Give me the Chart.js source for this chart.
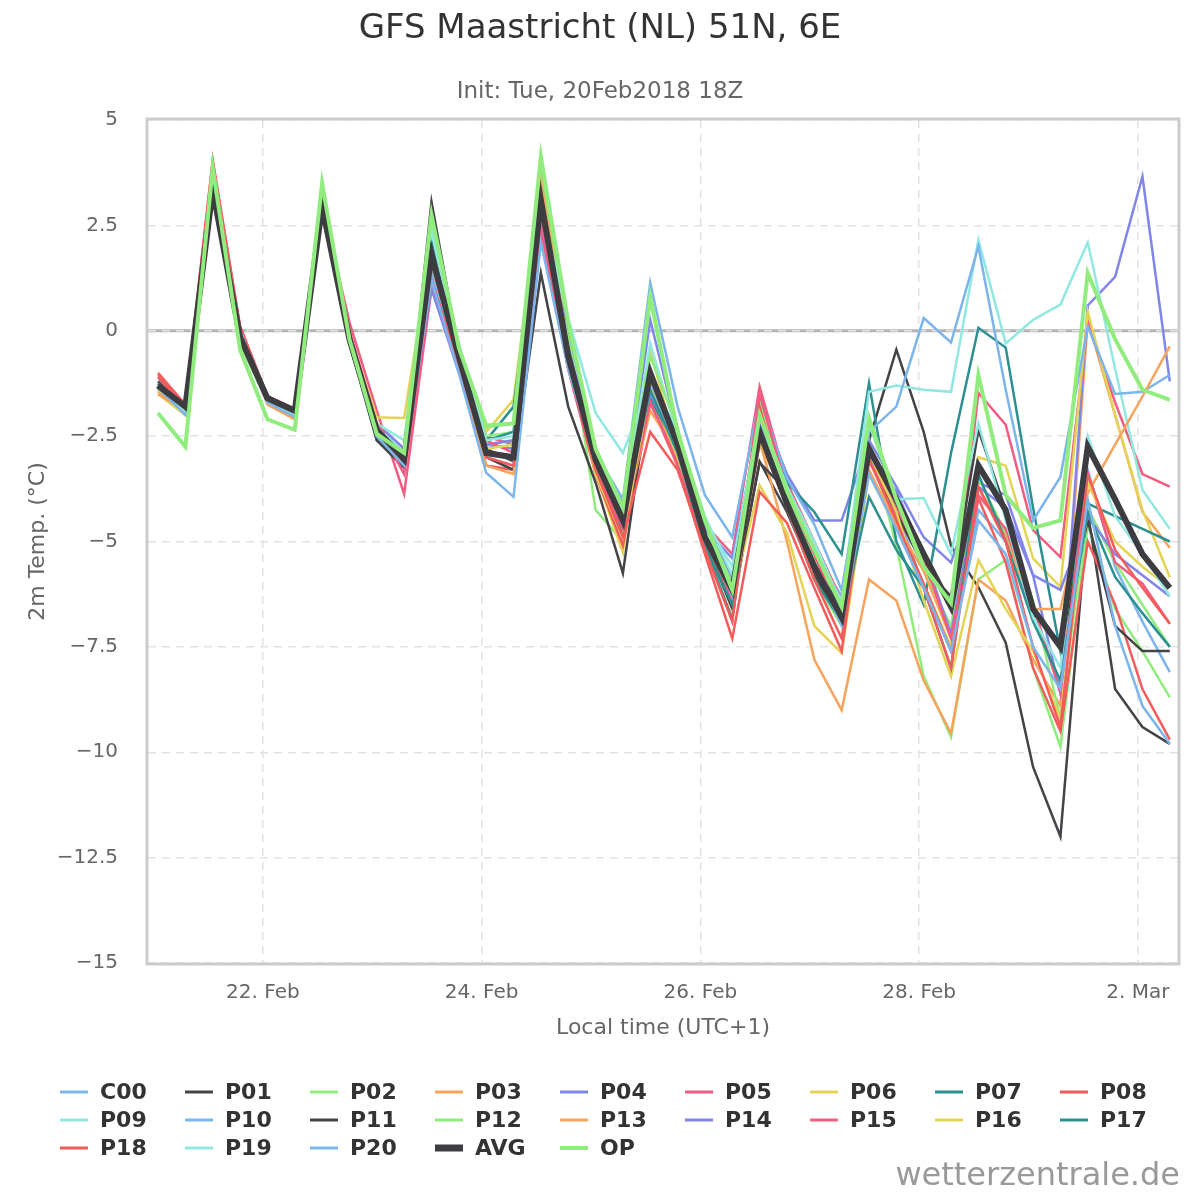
<!DOCTYPE html>
<html>
<head>
<meta charset="utf-8">
<title>GFS Maastricht (NL) 51N, 6E</title>
<script src="https://cdn.jsdelivr.net/npm/chart.js@4.4.1/dist/chart.umd.min.js"></script>
<style>
    html, body { margin: 0; padding: 0; background: #ffffff; }
    #chart { display: block; }
</style>
</head>
<body>
<canvas id="chart" width="1200" height="1200"></canvas>
<script>
/* ============================================
   DATA (2m temperature, °C, every 6h from 21 Feb 01:00 local)
   ============================================ */

// hours after 21 Feb 01:00 (UTC+1)
const HOURS = [0, 6, 12, 18, 24, 30, 36, 42, 48, 54, 60, 66, 72, 78, 84, 90, 96, 102, 108,
    114, 120, 126, 132, 138, 144, 150, 156, 162, 168, 174, 180, 186, 192, 198, 204, 210, 216, 222];

// x-axis ticks: midnight of each labelled day
const TICK_HOURS = [23, 71, 119, 167, 215];
const TICK_LABELS = ['22. Feb', '24. Feb', '26. Feb', '28. Feb', '2. Mar'];

const C00 = [-1.35, -1.95, 3.5, -0.1,  -1.65, -1.95, 3.1, -0.1,  -2.4, -3.0, 1.4, -0.9,
    -3.2, -3.3, 2.6, -0.7,  -3.2, -4.3, -1.3, -2.6,  -4.6, -5.9, -1.9, -3.8,
    -5.3, -6.3, -2.9, -4.2,  -6.1, -7.6, -4.25, -5.0,  -6.8, -8.45, -3.3, -5.6,  -6.9, -8.1];
const P01 = [-1.25, -1.8, 3.3, 0.0,  -1.6, -1.9, 2.9, -0.2,  -2.5, -3.2, 3.06, -0.5,
    -2.8, -3.1, 2.9, -0.5,  -3.1, -4.6, -1.1, -2.9,  -5.0, -6.6, -3.1, -4.3,
    -5.8, -6.9, -2.6, -0.45,  -2.4, -5.1, -6.08, -7.4,  -10.35, -12.0, -4.3, -8.5,  -9.4, -9.8];
const P02 = [-1.4, -1.95, 3.8, -0.3,  -1.7, -2.0, 3.3, -0.2,  -2.3, -2.9, 2.4, -0.4,
    -2.3, -2.2, 3.9, 0.0,  -4.25, -5.0, -1.5, -3.0,  -4.6, -6.2, -2.2, -4.2,
    -5.9, -7.0, -2.6, -5.1,  -8.2, -9.64, -5.9, -5.44,  -8.0, -9.87, -4.6, -6.6,  -7.6, -8.7];
const P03 = [-1.45, -1.95, 3.6, -0.1,  -1.7, -2.05, 3.1, -0.3,  -2.4, -3.1, 1.7, -0.9,
    -3.0, -3.3, 2.9, -0.6,  -3.3, -4.8, -1.6, -3.0,  -5.2, -6.8, -2.6, -5.0,
    -7.8, -9.0, -5.9, -6.4,  -8.3, -9.55, -5.9, -6.4,  -7.8, -8.9, 0.26, -2.0,  -4.3, -5.15];
const P04 = [-1.4, -1.95, 3.5, -0.1,  -1.65, -1.95, 3.0, -0.15,  -2.2, -2.8, 1.0, -0.9,
    -2.7, -2.8, 2.3, 0.1,  -3.0, -4.3, 0.26, -2.4,  -4.5, -5.9, -1.8, -3.4,
    -4.5, -4.5, -2.6, -3.7,  -4.9, -5.5, -3.6, -3.9,  -5.8, -8.6, 0.6, 1.28,  3.66, -1.2];
const P05 = [-1.05, -1.75, 4.0, 0.1,  -1.55, -1.85, 3.0, 0.2,  -1.9, -3.87, 1.0, -0.7,
    -2.5, -2.7, 2.5, -0.5,  -2.9, -4.1, -1.4, -2.7,  -4.6, -5.3, -1.33, -3.6,
    -5.0, -6.4, -3.0, -4.4,  -5.5, -7.2, -1.47, -2.23,  -4.73, -5.37, 0.2, -1.7,  -3.4, -3.7];
const P06 = [-1.5, -2.0, 3.6, -0.1,  -1.7, -2.0, 3.1, -0.1,  -2.05, -2.07, 2.0, -0.6,
    -2.4, -1.64, 3.4, -0.5,  -3.4, -5.27, -0.45, -2.9,  -5.0, -6.3, -3.66, -4.8,
    -7.0, -7.65, -3.4, -4.6,  -6.0, -7.5, -3.0, -3.2,  -5.4, -6.08, 0.45, -2.0,  -4.25, -5.85];
const P07 = [-1.3, -1.8, 3.4, -0.1,  -1.65, -2.0, 3.0, -0.2,  -2.6, -3.1, 2.1, -0.7,
    -2.6, -1.8, 3.1, -0.5,  -3.3, -4.8, -1.6, -2.8,  -5.1, -6.86, -2.2, -3.6,
    -4.3, -5.3, -1.24, -5.0,  -6.5, -2.9, 0.07, -0.4,  -4.2, -7.6, -4.1, -4.4,  -4.7, -5.0];
const P08 = [-1.0, -1.75, 4.06, 0.1,  -1.55, -1.9, 3.1, -0.1,  -2.3, -3.2, 1.5, -0.9,
    -3.2, -3.3, 2.3, -0.9,  -3.4, -5.1, -1.7, -3.2,  -5.3, -7.3, -3.82, -4.56,
    -6.1, -7.6, -3.0, -4.5,  -6.0, -7.6, -3.97, -5.5,  -8.0, -9.5, -5.0, -6.5,  -8.5, -9.7];
const P09 = [-1.3, -1.85, 3.6, 0.0,  -1.6, -1.95, 3.1, -0.1,  -2.2, -2.6, 2.4, -0.4,
    -2.7, -2.6, 3.4, 0.26,  -3.0, -4.2, -0.3, -2.5,  -4.4, -5.8, -2.0, -3.7,
    -5.2, -6.4, -1.45, -1.3,  -1.4, -1.45, 2.16, -0.3,  0.26, 0.62, 2.1, -0.9,  -3.78, -4.7];
const P10 = [-1.3, -1.9, 3.5, -0.1,  -1.7, -2.0, 3.0, -0.2,  -2.4, -3.0, 1.37, -0.8,
    -3.0, -3.2, 2.1, -0.4,  -2.9, -4.0, 1.14, -1.8,  -3.9, -4.9, -1.6, -3.5,
    -4.6, -6.15, -2.4, -1.8,  0.3, -0.28, 2.0, -1.4,  -4.5, -3.47, 0.1, -1.5,  -1.45, -1.05];
const P11 = [-1.2, -1.85, 3.2, -0.2,  -1.55, -1.9, 2.95, -0.3,  -2.6, -3.25, 2.0, -0.9,
    -3.0, -3.3, 1.37, -1.8,  -3.6, -5.75, -1.2, -2.7,  -4.9, -6.4, -3.13, -3.8,
    -5.5, -6.6, -3.0, -4.3,  -5.6, -6.3, -2.35, -4.25,  -6.7, -7.5, -4.5, -7.0,  -7.6, -7.6];
const P12 = [-1.3, -1.85, 3.7, -0.05,  -1.6, -1.95, 3.2, -0.1,  -2.3, -2.9, 2.7, -0.5,
    -2.5, -2.4, 3.6, 0.2,  -3.0, -4.4, -0.6, -2.3,  -4.6, -6.0, -1.7, -3.9,
    -5.4, -6.5, -2.2, -4.0,  -5.7, -7.0, -3.5, -4.8,  -6.4, -9.2, -4.2, -5.5,  -6.5, -7.5];
const P13 = [-1.5, -1.9, 3.7, 0.0,  -1.75, -2.1, 3.2, -0.1,  -2.5, -3.1, 1.9, -0.8,
    -3.2, -3.4, 3.6, -0.4,  -3.1, -4.6, -1.9, -2.9,  -4.9, -6.3, -2.7, -4.0,
    -5.6, -6.9, -3.3, -4.6,  -5.7, -7.3, -3.7, -4.9,  -6.6, -6.6, -3.85, -2.7,  -1.56, -0.37];
const P14 = [-1.3, -1.9, 3.4, -0.1,  -1.6, -1.9, 3.0, -0.2,  -2.3, -2.9, 1.0, -1.0,
    -2.7, -2.6, 2.6, -0.4,  -2.8, -4.3, -1.5, -2.8,  -4.7, -5.4, -2.2, -4.2,
    -5.6, -6.7, -3.1, -3.8,  -5.3, -7.2, -3.7, -4.2,  -5.8, -6.15, -4.4, -5.3,  -5.8, -6.3];
const P15 = [-1.1, -1.8, 3.9, 0.05,  -1.6, -2.0, 3.1, 0.0,  -2.2, -3.4, 1.2, -0.8,
    -2.6, -2.9, 2.4, -0.9,  -3.3, -4.7, -1.7, -3.1,  -5.1, -6.4, -1.5, -3.8,
    -5.3, -6.9, -3.1, -4.2,  -5.4, -7.3, -3.9, -4.7,  -6.5, -8.6, -3.4, -5.5,  -6.0, -6.95];
const P16 = [-1.4, -1.9, 3.5, 0.0,  -1.7, -2.0, 3.0, -0.3,  -2.4, -3.0, 1.6, -0.6,
    -2.8, -2.7, 3.0, -0.4,  -3.4, -4.9, -1.3, -3.0,  -4.9, -6.1, -2.6, -4.0,
    -5.6, -6.8, -2.9, -4.3,  -6.4, -8.2, -5.44, -6.6,  -7.6, -9.2, -3.6, -5.0,  -5.6, -6.1];
const P17 = [-1.25, -1.85, 3.3, -0.15,  -1.6, -1.95, 2.95, -0.2,  -2.5, -3.0, 1.7, -0.8,
    -2.6, -2.4, 3.0, -0.4,  -3.2, -4.4, -1.4, -2.9,  -5.1, -6.5, -2.3, -4.2,
    -5.9, -6.9, -3.94, -5.2,  -6.1, -8.0, -3.4, -5.0,  -6.9, -8.3, -4.3, -5.84,  -6.7, -7.5];
const P18 = [-1.1, -1.8, 3.9, 0.0,  -1.6, -1.95, 3.0, -0.15,  -2.4, -3.1, 1.2, -0.8,
    -3.0, -3.2, 2.8, -0.8,  -3.3, -4.9, -2.4, -3.3,  -5.2, -6.9, -1.8, -4.2,
    -5.9, -7.3, -3.06, -4.5,  -6.1, -8.0, -3.7, -5.0,  -7.5, -9.4, -3.4, -5.2,  -6.1, -6.95];
const P19 = [-1.35, -1.9, 3.6, 0.0,  -1.7, -2.0, 3.2, -0.1,  -2.3, -2.9, 2.4, -0.3,
    -2.6, -2.5, 2.9, 0.3,  -1.95, -2.9, -1.2, -2.4,  -4.5, -5.6, -2.0, -3.7,
    -5.0, -6.5, -2.2, -4.0,  -3.97, -5.3, -2.2, -4.5,  -6.8, -8.0, -2.5, -4.4,  -5.3, -6.3];
const P20 = [-1.35, -2.0, 3.4, -0.2,  -1.7, -2.05, 3.0, -0.3,  -2.5, -3.2, 1.2, -1.0,
    -3.37, -3.94, 2.1, -0.9,  -3.1, -4.6, -1.2, -2.8,  -4.8, -6.3, -2.0, -4.0,
    -5.5, -7.0, -3.4, -4.7,  -6.1, -7.6, -4.5, -5.3,  -7.5, -8.5, -4.0, -7.0,  -8.9, -9.8];
const AVG = [-1.3, -1.8, 3.35, -0.15,  -1.6, -1.9, 2.95, -0.2,  -2.35, -3.05, 1.8, -0.6,
    -2.9, -3.0, 3.1, -0.6,  -3.05, -4.5, -1.0, -2.7,  -4.9, -6.15, -2.4, -4.1,
    -5.6, -6.8, -2.8, -4.0,  -5.3, -6.55, -3.2, -4.25,  -6.6, -7.5, -2.75, -4.0,  -5.3, -6.1];
const OP = [-1.95, -2.75, 3.87, -0.45,  -2.1, -2.35, 3.5, -0.2,  -2.45, -2.9, 2.75, -0.4,
    -2.25, -2.2, 4.13, 0.2,  -2.8, -4.2, 0.8, -2.4,  -4.5, -6.15, -2.0, -3.8,
    -5.2, -6.55, -2.07, -4.0,  -5.6, -6.46, -1.05, -3.9,  -4.68, -4.5, 1.37, -0.2,  -1.4, -1.64];

const SERIES_NAMES = ['C00', 'P01', 'P02', 'P03', 'P04', 'P05', 'P06', 'P07', 'P08', 'P09',
    'P10', 'P11', 'P12', 'P13', 'P14', 'P15', 'P16', 'P17', 'P18', 'P19', 'P20', 'AVG', 'OP'];
const SERIES_VALUES = [C00, P01, P02, P03, P04, P05, P06, P07, P08, P09,
    P10, P11, P12, P13, P14, P15, P16, P17, P18, P19, P20, AVG, OP];

/* ============================================
   STYLE
   ============================================ */
const PALETTE = ['#7cb5ec', '#434348', '#90ed7d', '#f7a35c', '#8085e9',
    '#f15c80', '#e4d354', '#2b908f', '#f45b5b', '#91e8e1'];
const FONT = "'DejaVu Sans', sans-serif";

function seriesColor(i) {
    if (SERIES_NAMES[i] === 'AVG') return '#3c3c41';
    if (SERIES_NAMES[i] === 'OP') return '#90ed7d';
    return PALETTE[i % PALETTE.length];
}

function seriesWidth(name) {
    if (name === 'AVG') return 6;
    if (name === 'OP') return 4;
    return 2.5;
}

const datasets = SERIES_NAMES.map((name, i) => ({
    label: name,
    data: HOURS.map((h, k) => ({ x: h, y: SERIES_VALUES[i][k] })),
    borderColor: seriesColor(i),
    backgroundColor: seriesColor(i),
    borderWidth: seriesWidth(name),
    pointRadius: 0,
    tension: 0,
    // later series are drawn on top, like the original
    order: SERIES_NAMES.length - i
}));

/* ============================================
   PLUGINS (titles, plot frame, zero line, legend, credit)
   ============================================ */
const decorations = {
    id: 'decorations',
    beforeDraw(chart) {
        const ctx = chart.ctx;
        ctx.save();
        ctx.fillStyle = '#ffffff';
        ctx.fillRect(0, 0, chart.width, chart.height);
        ctx.restore();
    },
    beforeDatasetsDraw(chart) {
        const { ctx, chartArea } = chart;
        const y0 = chart.scales.y.getPixelForValue(0);
        ctx.save();
        // zero line
        ctx.strokeStyle = '#b4b4b4';
        ctx.lineWidth = 3;
        ctx.beginPath();
        ctx.moveTo(chartArea.left, y0);
        ctx.lineTo(chartArea.right, y0);
        ctx.stroke();
        // dashed grid again on top of the zero line
        ctx.strokeStyle = '#e4e4e4';
        ctx.lineWidth = 1.5;
        ctx.setLineDash([8, 6]);
        ctx.beginPath();
        ctx.moveTo(chartArea.left, y0);
        ctx.lineTo(chartArea.right, y0);
        ctx.stroke();
        ctx.setLineDash([]);
        // plot frame
        ctx.strokeStyle = '#cccccc';
        ctx.lineWidth = 3;
        ctx.strokeRect(chartArea.left - 1, chartArea.top - 1,
            chartArea.right - chartArea.left + 2, chartArea.bottom - chartArea.top + 2);
        ctx.restore();
    },
    afterDraw(chart) {
        const ctx = chart.ctx;
        ctx.save();
        ctx.textBaseline = 'middle';

        // title + subtitle
        ctx.textAlign = 'center';
        ctx.fillStyle = '#333333';
        ctx.font = '34px ' + FONT;
        ctx.fillText('GFS Maastricht (NL) 51N, 6E', 600, 29);
        ctx.fillStyle = '#666666';
        ctx.font = '23px ' + FONT;
        ctx.fillText('Init: Tue, 20Feb2018 18Z', 600, 92);

        // legend: 9 columns
        ctx.textAlign = 'left';
        ctx.font = 'bold 22px ' + FONT;
        chart.data.datasets.forEach((ds, i) => {
            const col = i % 9;
            const row = Math.floor(i / 9);
            const x = 60 + col * 125;
            const y = 1092 + row * 28;
            ctx.strokeStyle = ds.borderColor;
            ctx.lineWidth = ds.label === 'AVG' ? 7 : (ds.label === 'OP' ? 4 : 3);
            ctx.beginPath();
            ctx.moveTo(x, y);
            ctx.lineTo(x + 28, y);
            ctx.stroke();
            ctx.fillStyle = '#333333';
            ctx.fillText(ds.label, x + 40, y + 1);
        });

        // credit
        ctx.textAlign = 'right';
        ctx.fillStyle = '#999999';
        ctx.font = '32px ' + FONT;
        ctx.fillText('wetterzentrale.de', 1180, 1177);
        ctx.restore();
    }
};

/* ============================================
   CHART
   ============================================ */
const gridColor = '#e2e2e2';

new Chart(document.getElementById('chart'), {
    type: 'line',
    data: { datasets },
    options: {
        responsive: false,
        animation: false,
        devicePixelRatio: 1,
        layout: { padding: { top: 120, right: 22, bottom: 152, left: 0 } },
        plugins: {
            legend: { display: false },
            tooltip: { enabled: false },
            title: { display: false }
        },
        scales: {
            x: {
                type: 'linear',
                min: -2.2,
                max: 223.8,
                afterFit: (scale) => { scale.height = 85; },
                afterBuildTicks: (scale) => {
                    scale.ticks = TICK_HOURS.map(v => ({ value: v }));
                },
                ticks: {
                    autoSkip: false,
                    maxRotation: 0,
                    padding: 18,
                    color: '#666666',
                    font: { family: FONT, size: 20 },
                    callback: (value, index) => TICK_LABELS[index]
                },
                grid: { color: gridColor, lineWidth: 1.5, drawTicks: false },
                border: { display: false, dash: [8, 6] },
                title: {
                    display: true,
                    text: 'Local time (UTC+1)',
                    color: '#666666',
                    font: { family: FONT, size: 22 },
                    padding: { top: 0, bottom: 7 }
                }
            },
            y: {
                min: -15,
                max: 5,
                afterFit: (scale) => { scale.width = 148; },
                ticks: {
                    stepSize: 2.5,
                    padding: 30,
                    color: '#666666',
                    font: { family: FONT, size: 20 },
                    callback: (v) => (v < 0 ? '\u2212' + Math.abs(v) : String(v))
                },
                grid: { color: gridColor, lineWidth: 1.5, drawTicks: false },
                border: { display: false, dash: [8, 6] },
                title: {
                    display: true,
                    text: '2m Temp. (°C)',
                    color: '#666666',
                    font: { family: FONT, size: 22 },
                    padding: { top: 25, bottom: 0 }
                }
            }
        }
    },
    plugins: [decorations]
});
</script>
</body>
</html>
